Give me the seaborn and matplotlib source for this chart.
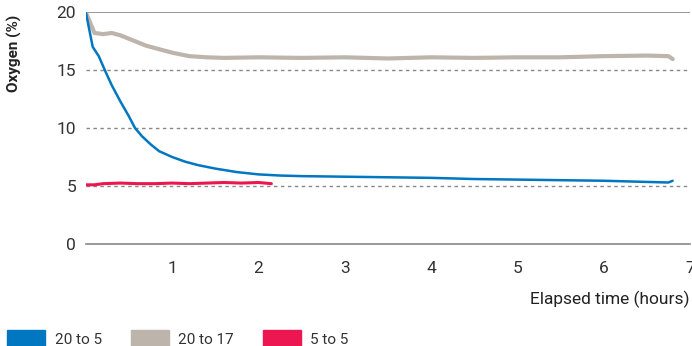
import pandas as pd
import seaborn as sns
import matplotlib.pyplot as plt
from matplotlib.patches import Patch

# (hours, % oxygen)
blue_t = [0, 0.08, 0.15, 0.22, 0.3, 0.4, 0.5, 0.57, 0.65, 0.75, 0.85, 1.0, 1.15, 1.3,
          1.5, 1.75, 2.0, 2.25, 2.5, 3.0, 3.5, 4.0, 4.5, 5.0, 5.5, 6.0, 6.5, 6.75, 6.8]
blue_v = [20, 17.0, 16.2, 15.0, 13.7, 12.3, 11.0, 10.0, 9.3, 8.6, 8.0, 7.5, 7.1, 6.8,
          6.5, 6.2, 6.0, 5.9, 5.85, 5.8, 5.75, 5.7, 5.6, 5.55, 5.5, 5.45, 5.35, 5.3, 5.45]

gray_t = [0, 0.1, 0.2, 0.3, 0.4, 0.5, 0.6, 0.7, 0.8, 0.9, 1.0, 1.1, 1.2, 1.4, 1.6,
          2.0, 2.5, 3.0, 3.5, 4.0, 4.5, 5.0, 5.5, 6.0, 6.5, 6.75, 6.8]
gray_v = [20, 18.2, 18.1, 18.2, 18.0, 17.7, 17.4, 17.1, 16.9, 16.7, 16.5, 16.35, 16.2,
          16.1, 16.05, 16.1, 16.05, 16.1, 16.0, 16.1, 16.05, 16.1, 16.1, 16.2, 16.25,
          16.2, 15.95]

red_t = [0, 0.1, 0.2, 0.4, 0.6, 0.8, 1.0, 1.2, 1.4, 1.6, 1.8, 2.0, 2.15]
red_v = [5.1, 5.1, 5.2, 5.25, 5.2, 5.2, 5.25, 5.2, 5.25, 5.3, 5.25, 5.3, 5.2]

labels = ["20 to 5", "20 to 17", "5 to 5"]
colors = ["#0077c0", "#bdb5ab", "#ec1651"]
x_ticks = [1, 2, 3, 4, 5, 6, 7]
y_ticks = [0, 5, 10, 15, 20]

df = pd.concat([
    pd.DataFrame({"t": blue_t, "o2": blue_v, "run": labels[0]}),
    pd.DataFrame({"t": gray_t, "o2": gray_v, "run": labels[1]}),
    pd.DataFrame({"t": red_t, "o2": red_v, "run": labels[2]}),
])

sns.set_style("white")
plt.rcParams["font.family"] = ["Roboto", "DejaVu Sans"]

fig = plt.figure(figsize=(6.92, 3.46), dpi=100)
ax = fig.add_axes([0.124, 0.295, 0.873, 0.67])

for y in [5, 10, 15]:
    ax.axhline(y, color="#888888", lw=1, ls=(0, (2.5, 2.5)), zorder=0)
ax.axhline(20, color="#888888", lw=1.2, zorder=0)

for lab, c, lw in zip(labels[::-1], colors[::-1], [2.2, 3.0, 1.8]):
    sns.lineplot(data=df[df["run"] == lab], x="t", y="o2", color=c, lw=lw, ax=ax,
                 legend=False)
# keep blue drawn over gray
ax.lines[-1].set_zorder(5)

ax.set_xlim(0, 7)
ax.set_ylim(0, 20)
ax.set_xticks(x_ticks)
ax.set_yticks(y_ticks)
for s in ["left", "right", "top"]:
    ax.spines[s].set_visible(False)
ax.spines["bottom"].set_color("#888888")
ax.spines["bottom"].set_linewidth(1.2)
ax.tick_params(axis="x", length=9, width=1, color="#888888", labelsize=12.5,
               labelcolor="#333333", pad=3)
ax.tick_params(axis="y", length=0, labelsize=12.5, labelcolor="#333333", pad=7)
ax.set_xlabel("Elapsed time (hours)", fontsize=12.5, color="#222222", ha="right")
ax.xaxis.set_label_coords(1.0, -0.2)
ax.set_ylabel("Oxygen (%)", fontsize=11, color="#222222", fontweight="bold")
ax.yaxis.set_label_coords(-0.105, 0.82)

handles = [Patch(color=c, label=l) for c, l in zip(colors, labels)]
fig.legend(handles=handles, loc="lower left", bbox_to_anchor=(-0.005, -0.04), ncol=3,
           frameon=False, fontsize=11, handlelength=2.5, handleheight=1.6,
           columnspacing=1.9, handletextpad=0.6, labelcolor="#333333",
           borderaxespad=0.3)

fig.savefig("out.png", dpi=100)
